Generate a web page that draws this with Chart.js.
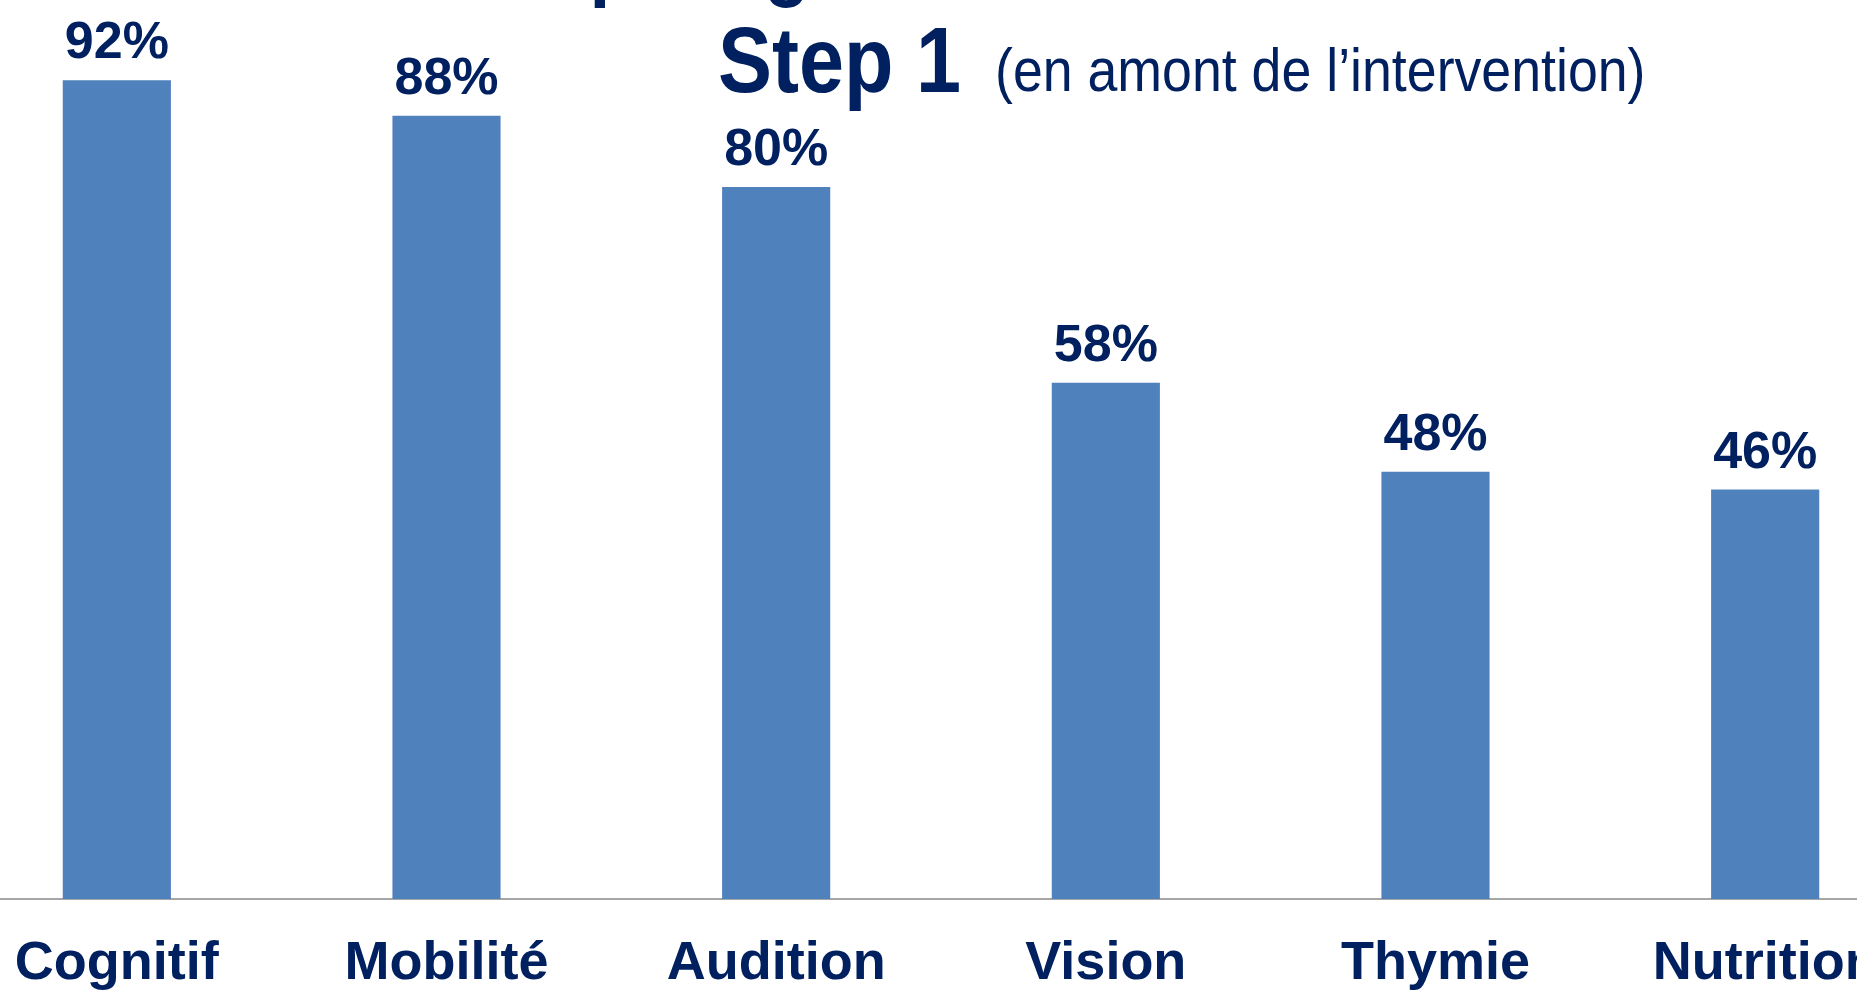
<!DOCTYPE html>
<html>
<head>
<meta charset="utf-8">
<script src="https://cdn.jsdelivr.net/npm/chart.js@4/dist/chart.umd.min.js"></script>
<style>
    html, body { margin: 0; padding: 0; background: #ffffff; overflow: hidden; }
    body { width: 1857px; height: 991px; position: relative; }
    #stepChart { position: absolute; left: -48px; top: 0; }
    .txt { position: absolute; white-space: nowrap; color: #002060; line-height: 1;
           font-family: "Liberation Sans", Arial, sans-serif; transform-origin: left top; }
    #topTitle { left: 494px; top: -82px; font-size: 85px; font-weight: bold; transform: scaleX(0.88); }
    #step { left: 718px; top: 14px; font-size: 92px; font-weight: bold; transform: scaleX(0.88); }
    #stepNote { left: 995px; top: 40px; font-size: 61px; transform: scaleX(0.88); }
</style>
</head>
<body>
<div class="txt" id="topTitle">Dépistage</div>
<div class="txt" id="step">Step 1</div>
<div class="txt" id="stepNote">(en amont de l’intervention)</div>
<canvas id="stepChart" width="1978" height="991"></canvas>

<script>
const categories = ["Cognitif", "Mobilité", "Audition", "Vision", "Thymie", "Nutrition"];
const values = [92, 88, 80, 58, 48, 46];

const navy = "#002060";

const valueLabels = {
    id: "valueLabels",
    afterDatasetsDraw(chart) {
        const ctx = chart.ctx;
        const meta = chart.getDatasetMeta(0);
        ctx.save();
        ctx.fillStyle = navy;
        ctx.font = "bold 52px 'Liberation Sans', Arial, sans-serif";
        ctx.textAlign = "center";
        ctx.textBaseline = "alphabetic";
        meta.data.forEach((bar, i) => {
            ctx.fillText(values[i] + "%", bar.x, bar.y - 22);
        });
        ctx.restore();
    }
};

new Chart(document.getElementById("stepChart"), {
    type: "bar",
    data: {
        labels: categories,
        datasets: [{
            data: values,
            backgroundColor: "#4F81BD",
            borderWidth: 0,
            barPercentage: 0.328,
            categoryPercentage: 1
        }]
    },
    options: {
        responsive: false,
        animation: false,
        devicePixelRatio: 1,
        layout: { padding: { top: 9, left: 0, right: 0, bottom: 0 } },
        plugins: {
            legend: { display: false },
            tooltip: { enabled: false }
        },
        scales: {
            y: {
                display: false,
                min: 0,
                max: 100
            },
            x: {
                afterFit(scale) { scale.height = 92; },
                grid: { display: false, drawTicks: false },
                border: { display: true, color: "#a6a6a6", width: 2 },
                ticks: {
                    color: navy,
                    padding: 33,
                    maxRotation: 0,
                    autoSkip: false,
                    font: { family: "'Liberation Sans', Arial, sans-serif", size: 54, weight: "bold" }
                }
            }
        }
    },
    plugins: [valueLabels]
});
</script>
</body>
</html>
